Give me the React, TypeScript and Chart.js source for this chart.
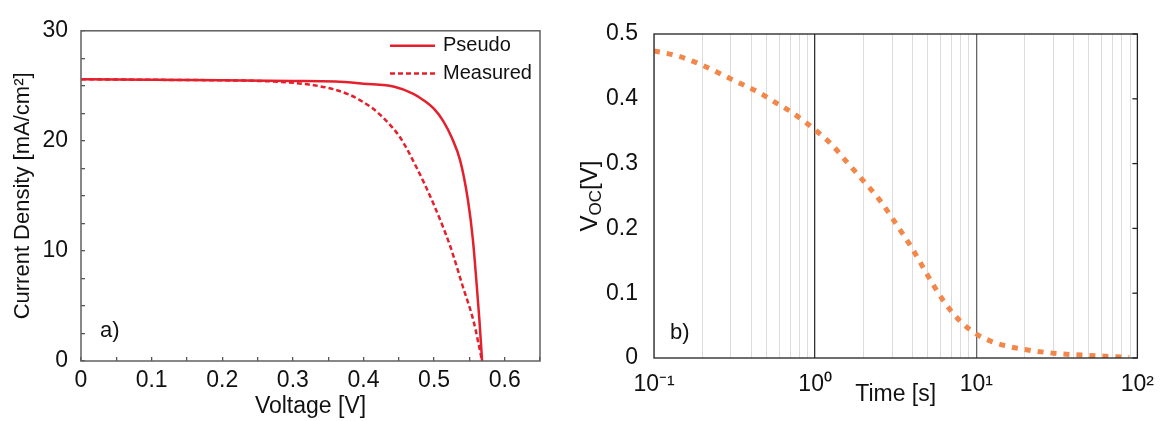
import React, { useEffect, useRef } from 'react';
import { Chart, registerables } from 'chart.js';

Chart.register(...registerables);

// ---------- Data: panel a) J-V curves ----------
const pseudoVoltage = [0, 0.1, 0.2, 0.3, 0.36, 0.4, 0.445, 0.47, 0.485, 0.5, 0.513, 0.525, 0.537, 0.548, 0.555, 0.56, 0.564, 0.568];
const pseudoCurrent = [25.6, 25.55, 25.5, 25.45, 25.4, 25.2, 24.9, 24.3, 23.7, 22.9, 21.8, 20.3, 18.2, 14.6, 11.0, 7.2, 3.9, 0];

const measuredVoltage = [0, 0.1, 0.2, 0.25, 0.296, 0.33, 0.357, 0.38, 0.395, 0.412, 0.428, 0.452, 0.475, 0.499, 0.523, 0.541, 0.556, 0.568];
const measuredCurrent = [25.6, 25.55, 25.5, 25.45, 25.3, 25.05, 24.7, 24.2, 23.7, 23.0, 22.1, 20.3, 17.6, 14.3, 10.4, 6.7, 3.6, 0];

// ---------- Data: panel b) Voc decay ----------
const decayTime = [0.1, 0.141, 0.178, 0.224, 0.282, 0.355, 0.447, 0.562, 0.708, 0.891, 1.0, 1.26, 1.58, 2.0, 2.51, 3.16, 3.98, 5.01, 6.31, 7.94, 10, 12.6, 15.8, 20, 31.6, 50.1, 89];
const decayVoc = [0.474, 0.466, 0.457, 0.446, 0.434, 0.422, 0.41, 0.395, 0.38, 0.362, 0.352, 0.33, 0.302, 0.273, 0.244, 0.208, 0.17, 0.127, 0.087, 0.057, 0.037, 0.025, 0.018, 0.013, 0.007, 0.004, 0.001];

const logTickValues = [0.1, 0.2, 0.3, 0.4, 0.5, 0.6, 0.7, 0.8, 0.9, 1, 2, 3, 4, 5, 6, 7, 8, 9, 10, 20, 30, 40, 50, 60, 70, 80, 90, 100];
const logTickLabels: Record<string, string> = { '0.1': '10⁻¹', '1': '10⁰', '10': '10¹', '100': '10²' };

const FONT = "'Liberation Sans', Arial, sans-serif";
const RED = '#e4202c';
const ORANGE = '#f3874a';
const TEXT = '#111111';

const boxPlugin = (color: string, width: number) => ({
  id: 'box',
  afterDraw(chart: any) {
    const { ctx, chartArea } = chart;
    ctx.save();
    ctx.strokeStyle = color;
    ctx.lineWidth = width;
    ctx.strokeRect(chartArea.left, chartArea.top, chartArea.right - chartArea.left, chartArea.bottom - chartArea.top);
    ctx.restore();
  },
});

const panelLabel = (text: string, dx: number, dy: number) => ({
  id: 'panelLabel',
  afterDraw(chart: any) {
    const { ctx, chartArea } = chart;
    ctx.save();
    ctx.font = `22px ${FONT}`;
    ctx.fillStyle = TEXT;
    ctx.textBaseline = 'middle';
    ctx.textAlign = 'left';
    ctx.fillText(text, chartArea.left + dx, chartArea.bottom - dy);
    ctx.restore();
  },
});

const insideLegend = {
  id: 'insideLegend',
  afterDraw(chart: any) {
    const { ctx, chartArea } = chart;
    chart.data.datasets.forEach((ds: any, i: number) => {
      const y = chartArea.top + 15 + i * 27.7;
      const x0 = chartArea.right - 150;
      ctx.save();
      ctx.strokeStyle = ds.borderColor;
      ctx.lineWidth = ds.borderWidth;
      ctx.setLineDash(ds.borderDash || []);
      ctx.beginPath();
      ctx.moveTo(x0, y);
      ctx.lineTo(x0 + 45, y);
      ctx.stroke();
      ctx.setLineDash([]);
      ctx.fillStyle = TEXT;
      ctx.font = `20px ${FONT}`;
      ctx.textBaseline = 'middle';
      ctx.textAlign = 'left';
      ctx.fillText(ds.label, x0 + 53, y);
      ctx.restore();
    });
  },
};

const rightEdgeTicks = {
  id: 'rightEdgeTicks',
  afterDraw(chart: any) {
    const { ctx, chartArea } = chart;
    const y = chart.scales.y;
    ctx.save();
    ctx.strokeStyle = '#222';
    ctx.lineWidth = 1.3;
    y.ticks.forEach((t: any) => {
      const py = y.getPixelForValue(t.value);
      ctx.beginPath();
      ctx.moveTo(chartArea.right - 5, py);
      ctx.lineTo(chartArea.right, py);
      ctx.stroke();
    });
    ctx.restore();
  },
};

const vocTitle = {
  id: 'vocTitle',
  afterDraw(chart: any) {
    const { ctx, chartArea } = chart;
    const cy = (chartArea.top + chartArea.bottom) / 2;
    ctx.save();
    ctx.translate(17, cy);
    ctx.rotate(-Math.PI / 2);
    ctx.fillStyle = TEXT;
    ctx.textBaseline = 'alphabetic';
    ctx.textAlign = 'left';
    const big = `24px ${FONT}`;
    const small = `17px ${FONT}`;
    ctx.font = big;
    const wV = ctx.measureText('V').width;
    const wB = ctx.measureText('[V]').width;
    ctx.font = small;
    const wO = ctx.measureText('OC').width;
    let x = -(wV + wO + wB) / 2;
    ctx.font = big;
    ctx.fillText('V', x, 0);
    x += wV;
    ctx.font = small;
    ctx.fillText('OC', x, 4);
    x += wO;
    ctx.font = big;
    ctx.fillText('[V]', x, 0);
    ctx.restore();
  },
};

function leftConfig(): any {
  return {
    type: 'line',
    data: {
      datasets: [
        {
          label: 'Pseudo',
          data: pseudoVoltage.map((v, i) => ({ x: v, y: pseudoCurrent[i] })),
          borderColor: RED,
          borderWidth: 2.5,
          pointRadius: 0,
          fill: false,
          cubicInterpolationMode: 'monotone',
        },
        {
          label: 'Measured',
          data: measuredVoltage.map((v, i) => ({ x: v, y: measuredCurrent[i] })),
          borderColor: RED,
          borderWidth: 2.5,
          borderDash: [5, 3],
          pointRadius: 0,
          fill: false,
          cubicInterpolationMode: 'monotone',
        },
      ],
    },
    options: {
      responsive: false,
      animation: false,
      layout: { padding: { top: 30, right: 40, left: 0, bottom: 0 } },
      plugins: { legend: { display: false }, tooltip: { enabled: false } },
      scales: {
        x: {
          type: 'linear',
          min: 0,
          max: 0.65,
          ticks: {
            stepSize: 0.05,
            autoSkip: false,
            maxRotation: 0,
            padding: 10,
            color: TEXT,
            font: { family: FONT, size: 23 },
            callback: (v: number) => {
              const r = Math.round(v * 100);
              return r % 10 === 0 ? String(r / 100) : '';
            },
          },
          grid: { drawOnChartArea: false, drawTicks: true, tickLength: -4, color: '#555', lineWidth: 1.3 },
          border: { display: false },
          title: { display: true, text: 'Voltage [V]', color: TEXT, font: { family: FONT, size: 23 }, padding: { top: 0, bottom: 1 } },
          afterFit: (s: any) => { s.height = 60; },
        },
        y: {
          min: 0,
          max: 30,
          ticks: {
            stepSize: 2.5,
            autoSkip: false,
            padding: 17,
            color: TEXT,
            font: { family: FONT, size: 23 },
            callback: (v: number) => (Math.round(v * 10) % 100 === 0 ? String(v) : ''),
          },
          grid: { drawOnChartArea: false, drawTicks: true, tickLength: -4, color: '#555', lineWidth: 1.3 },
          border: { display: false },
          title: { display: true, text: 'Current Density [mA/cm²]', color: TEXT, font: { family: FONT, size: 22 }, padding: { top: 10, bottom: 0 } },
          afterFit: (s: any) => { s.width = 81; },
        },
      },
    },
    plugins: [boxPlugin('#606060', 1.5), insideLegend, panelLabel('a)', 19, 30)],
  };
}

function rightConfig(): any {
  return {
    type: 'line',
    data: {
      datasets: [
        {
          label: 'Voc',
          data: decayTime.map((t, i) => ({ x: t, y: decayVoc[i] })),
          borderColor: ORANGE,
          borderWidth: 5,
          borderDash: [6, 7],
          borderCapStyle: 'butt',
          pointRadius: 0,
          fill: false,
          cubicInterpolationMode: 'monotone',
        },
      ],
    },
    options: {
      responsive: false,
      animation: false,
      layout: { padding: { top: 34, right: 16, left: 0, bottom: 0 } },
      plugins: { legend: { display: false }, tooltip: { enabled: false } },
      scales: {
        x: {
          type: 'logarithmic',
          min: 0.1,
          max: 100,
          afterBuildTicks: (s: any) => { s.ticks = logTickValues.map((v) => ({ value: v })); },
          ticks: {
            autoSkip: false,
            maxRotation: 0,
            padding: 13,
            color: TEXT,
            font: { family: FONT, size: 23 },
            callback: (v: number) => logTickLabels[String(v)] || '',
          },
          grid: {
            drawTicks: false,
            color: (ctx: any) => {
              const v = ctx.tick && ctx.tick.value;
              if (v === 1) return '#333333';
              if (v === 10) return '#666666';
              return '#dcdcdc';
            },
            lineWidth: (ctx: any) => {
              const v = ctx.tick && ctx.tick.value;
              return v === 1 || v === 10 ? 1.3 : 1;
            },
          },
          border: { display: false },
          title: { display: true, text: 'Time [s]', color: TEXT, font: { family: FONT, size: 23 }, padding: { top: 0, bottom: 13 } },
          afterFit: (s: any) => { s.height = 63; },
        },
        y: {
          min: 0,
          max: 0.5,
          ticks: {
            stepSize: 0.1,
            padding: 16,
            color: TEXT,
            font: { family: FONT, size: 23 },
            callback: (v: number) => (v === 0 ? '0' : v.toFixed(1)),
          },
          grid: { drawOnChartArea: false, drawTicks: false },
          border: { display: false },
          afterFit: (s: any) => { s.width = 74; },
        },
      },
    },
    plugins: [boxPlugin('#222222', 1.3), rightEdgeTicks, vocTitle, panelLabel('b)', 16, 25)],
  };
}

export default function App() {
  const leftRef = useRef<HTMLCanvasElement>(null);
  const rightRef = useRef<HTMLCanvasElement>(null);

  useEffect(() => {
    const c1 = new Chart(leftRef.current as HTMLCanvasElement, leftConfig());
    const c2 = new Chart(rightRef.current as HTMLCanvasElement, rightConfig());
    return () => {
      c1.destroy();
      c2.destroy();
    };
  }, []);

  return (
    <div style={{ position: 'absolute', left: 0, top: 0, width: 1167, height: 421, background: '#ffffff' }}>
      <canvas ref={leftRef} width={580} height={421} style={{ position: 'absolute', left: 0, top: 0, width: 580, height: 421 }} />
      <canvas ref={rightRef} width={587} height={421} style={{ position: 'absolute', left: 580, top: 0, width: 587, height: 421 }} />
    </div>
  );
}
